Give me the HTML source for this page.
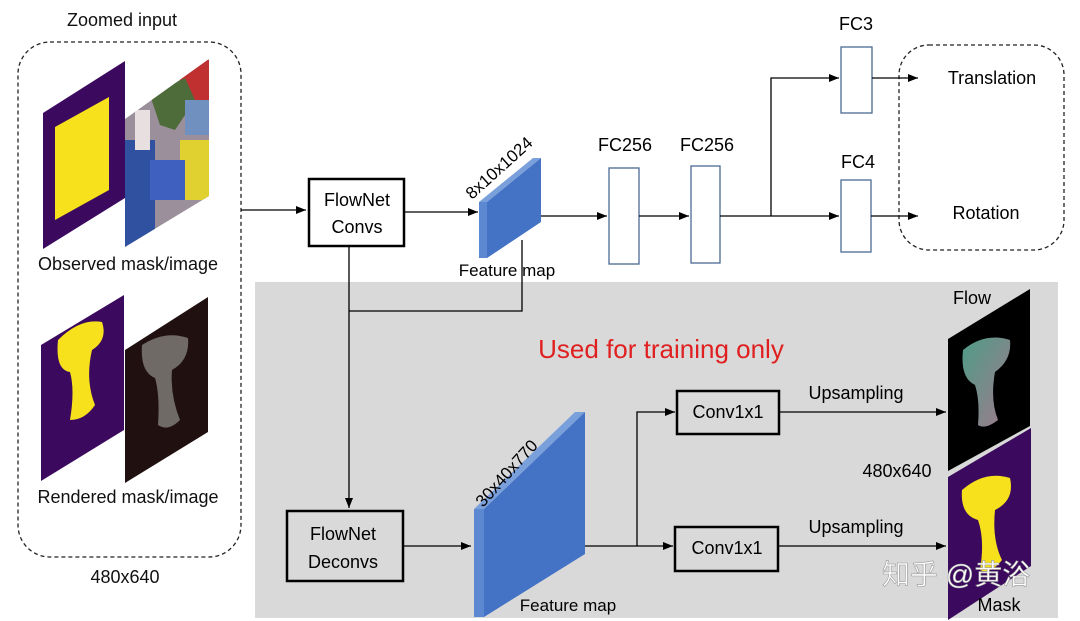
<!DOCTYPE html>
<html><head><meta charset="utf-8"><style>
body{margin:0;background:#fff}
svg{display:block;font-family:"Liberation Sans","Noto Sans CJK SC",sans-serif}
</style></head><body>
<svg width="1080" height="621" viewBox="0 0 1080 621" xmlns="http://www.w3.org/2000/svg">
<defs>
<marker id="a" markerWidth="10" markerHeight="8" refX="10" refY="4" orient="auto" markerUnits="userSpaceOnUse"><path d="M0,0 L10,4 L0,8 z" fill="#000"/></marker>
<linearGradient id="fl" x1="0" y1="0" x2="1" y2="1"><stop offset="0" stop-color="#4f9c86"/><stop offset="1" stop-color="#a07a8e"/></linearGradient>
<clipPath id="ph"><polygon points="125,119 209,59 209,196 125,247"/></clipPath>
</defs>
<rect x="255" y="282" width="803" height="336" fill="#d9d9d9"/>
<rect x="18" y="42" width="223" height="515" rx="32" fill="none" stroke="#222" stroke-width="1.3" stroke-dasharray="4,3"/>
<rect x="899" y="45" width="165" height="205" rx="30" fill="none" stroke="#222" stroke-width="1.3" stroke-dasharray="4,3"/>
<g font-size="18" fill="#111">
<text x="122" y="26" text-anchor="middle">Zoomed input</text>
<text x="128" y="270" text-anchor="middle">Observed  mask/image</text>
<text x="128" y="503" text-anchor="middle">Rendered mask/image</text>
<text x="125" y="583" text-anchor="middle">480x640</text>
</g>
<polygon points="43,113 125,61 125,198 43,249" fill="#3b0a5e"/>
<polygon points="55,127 109,97 109,190 55,220" fill="#f7e01c"/>
<g clip-path="url(#ph)">
<rect x="125" y="55" width="90" height="200" fill="#9a8f9a"/>
<rect x="125" y="140" width="30" height="110" fill="#3050a0"/>
<rect x="180" y="60" width="30" height="40" fill="#c03030"/>
<rect x="180" y="140" width="30" height="60" fill="#e0d030"/>
<rect x="150" y="160" width="35" height="40" fill="#4060c0"/>
<polygon points="150,95 185,78 195,100 175,130 160,125" fill="#4e6b3a"/>
<rect x="135" y="110" width="15" height="40" fill="#e8e0e0"/>
<rect x="185" y="100" width="24" height="35" fill="#7090c0"/>
</g>
<polygon points="41,345 124,295 124,430 41,481" fill="#3b0a5e"/>
<path d="M58,340 Q80,318 102,322 Q108,340 92,350 Q85,380 95,405 Q85,420 70,420 Q75,390 70,372 Q55,370 58,340z" fill="#f7e01c"/>
<polygon points="125,350 208,297 208,432 125,483" fill="#201010"/>
<path d="M142,345 Q165,330 188,338 Q190,360 172,370 Q170,395 180,420 Q168,432 158,425 Q160,395 155,378 Q140,372 142,345z" fill="#6f6a66"/>
<line x1="241" y1="210" x2="306" y2="210" stroke="#000" stroke-width="1.3" marker-end="url(#a)"/>
<rect x="309" y="179" width="95" height="67" fill="#fff" stroke="#000" stroke-width="2.5"/>
<text x="357" y="206" font-size="18" text-anchor="middle">FlowNet</text>
<text x="357" y="233" font-size="18" text-anchor="middle">Convs</text>
<line x1="404" y1="212" x2="478" y2="212" stroke="#000" stroke-width="1.3" marker-end="url(#a)"/>
<polygon points="479,202 533,158 541,158 487,202" fill="#7aa0dc"/>
<polygon points="479,202 487,202 487,258 479,258" fill="#5b88d0"/>
<polygon points="487,202 541,158 541,222 487,258" fill="#4472c4"/>
<text x="0" y="0" font-size="17" transform="translate(472,200) rotate(-42)">8x10x1024</text>
<text x="507" y="276" font-size="17" text-anchor="middle">Feature map</text>
<line x1="541" y1="216" x2="607" y2="216" stroke="#000" stroke-width="1.3" marker-end="url(#a)"/>
<rect x="609" y="168" width="30" height="96" fill="#fff" stroke="#4a6a95" stroke-width="1.3"/>
<rect x="691" y="166" width="29" height="97" fill="#fff" stroke="#4a6a95" stroke-width="1.3"/>
<text x="625" y="151" font-size="18" text-anchor="middle">FC256</text>
<text x="707" y="151" font-size="18" text-anchor="middle">FC256</text>
<line x1="639" y1="216" x2="689" y2="216" stroke="#000" stroke-width="1.3" marker-end="url(#a)"/>
<polyline points="720,216 771,216" fill="none" stroke="#000" stroke-width="1.3"/>
<polyline points="771,216 771,78 839,78" fill="none" stroke="#000" stroke-width="1.3" marker-end="url(#a)"/>
<line x1="771" y1="216" x2="839" y2="216" stroke="#000" stroke-width="1.3" marker-end="url(#a)"/>
<rect x="841" y="47" width="31" height="66" fill="#fff" stroke="#4a6a95" stroke-width="1.3"/>
<rect x="841" y="180" width="30" height="72" fill="#fff" stroke="#4a6a95" stroke-width="1.3"/>
<text x="856" y="30" font-size="18" text-anchor="middle">FC3</text>
<text x="858" y="168" font-size="18" text-anchor="middle">FC4</text>
<line x1="872" y1="78" x2="918" y2="78" stroke="#000" stroke-width="1.3" marker-end="url(#a)"/>
<line x1="871" y1="216" x2="918" y2="216" stroke="#000" stroke-width="1.3" marker-end="url(#a)"/>
<text x="992" y="84" font-size="18" text-anchor="middle">Translation</text>
<text x="986" y="219" font-size="18" text-anchor="middle">Rotation</text>
<polyline points="522,240 522,311 349,311" fill="none" stroke="#000" stroke-width="1.3"/>
<line x1="349" y1="246" x2="349" y2="508" stroke="#000" stroke-width="1.3" marker-end="url(#a)"/>
<rect x="287" y="511" width="116" height="70" fill="#d9d9d9" stroke="#000" stroke-width="2.5"/>
<text x="343" y="540" font-size="18" text-anchor="middle">FlowNet</text>
<text x="343" y="568" font-size="18" text-anchor="middle">Deconvs</text>
<line x1="403" y1="546" x2="471" y2="546" stroke="#000" stroke-width="1.3" marker-end="url(#a)"/>
<polygon points="474,509 575,412 585,412 484,509" fill="#7aa0dc"/>
<polygon points="474,509 484,509 484,617 474,617" fill="#5b88d0"/>
<polygon points="484,509 585,412 585,554 484,617" fill="#4472c4"/>
<text x="0" y="0" font-size="17" transform="translate(483,508) rotate(-48)">30x40x770</text>
<text x="568" y="611" font-size="17" text-anchor="middle">Feature map</text>
<text x="661" y="358" font-size="26" fill="#e02020" text-anchor="middle">Used for training only</text>
<line x1="585" y1="546" x2="673" y2="546" stroke="#000" stroke-width="1.3" marker-end="url(#a)"/>
<polyline points="637,546 637,412 675,412" fill="none" stroke="#000" stroke-width="1.3" marker-end="url(#a)"/>
<rect x="677" y="391" width="102" height="43" fill="#d9d9d9" stroke="#000" stroke-width="2.5"/>
<rect x="675" y="527" width="103" height="44" fill="#d9d9d9" stroke="#000" stroke-width="2.5"/>
<text x="728" y="418" font-size="18" text-anchor="middle">Conv1x1</text>
<text x="727" y="554" font-size="18" text-anchor="middle">Conv1x1</text>
<text x="856" y="399" font-size="18" text-anchor="middle">Upsampling</text>
<text x="856" y="533" font-size="18" text-anchor="middle">Upsampling</text>
<line x1="779" y1="412" x2="946" y2="412" stroke="#000" stroke-width="1.3" marker-end="url(#a)"/>
<line x1="778" y1="546" x2="946" y2="546" stroke="#000" stroke-width="1.3" marker-end="url(#a)"/>
<polygon points="948,339 1030,289 1030,426 948,471" fill="#000"/>
<path d="M963,350 Q985,332 1010,340 Q1012,360 995,372 Q990,400 998,420 Q985,430 978,425 Q980,400 975,385 Q960,378 963,350z" fill="url(#fl)"/>
<polygon points="948,477 1031,428 1031,566 948,620" fill="#3b0a5e"/>
<path d="M962,490 Q985,470 1010,478 Q1015,500 995,510 Q992,540 1002,560 Q990,575 980,570 Q985,540 978,520 Q960,515 962,490z" fill="#f7e01c"/>
<text x="972" y="304" font-size="18" text-anchor="middle">Flow</text>
<text x="897" y="477" font-size="18" text-anchor="middle">480x640</text>
<text x="999" y="611" font-size="18" text-anchor="middle">Mask</text>
<text x="882" y="584" font-size="28" fill="#fff" stroke="#999" stroke-width="0.6">知乎 @黄浴</text>
</svg>
</body></html>
